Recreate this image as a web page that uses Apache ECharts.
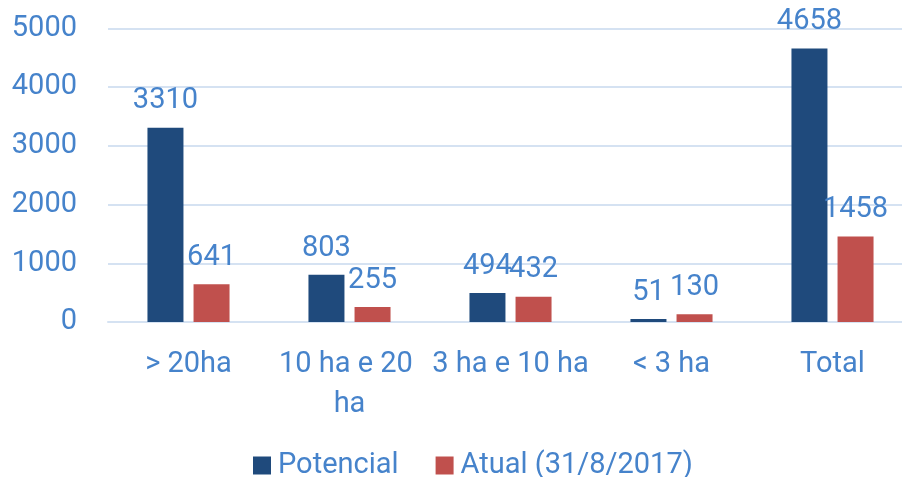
<!DOCTYPE html>
<html>
<head>
<meta charset="utf-8">
<script src="https://cdn.jsdelivr.net/npm/echarts@6/dist/echarts.min.js"></script>
<style>
  html, body { margin: 0; padding: 0; background: #fff; }
  #root { width: 902px; height: 477px; }
</style>
</head>
<body>
<div id="root"></div>
<script>
  var categories = ['> 20ha', '10 ha e 20 ha', '3 ha e 10 ha', '< 3 ha', 'Total'];
  var potencial = [3310, 803, 494, 51, 4658];
  var atual = [641, 255, 432, 130, 1458];
  var seriesNames = ['Potencial', 'Atual (31/8/2017)'];

  var textColor = '#4683cb';
  var font = 'Roboto';

  var chart = echarts.init(document.getElementById('root'));
  var labelStyle = {
    show: true,
    position: 'top',
    distance: 12,
    color: textColor,
    fontSize: 29,
    fontFamily: font
  };

  chart.setOption({
    animation: false,
    // right edge sits past the canvas, as in the reference
    grid: {
      left: 108, right: -11, top: 28.5, bottom: 155,
      containLabel: false, outerBoundsMode: 'none'
    },
    legend: {
      bottom: -8,
      left: 248,
      itemWidth: 18,
      itemHeight: 18,
      itemGap: 37,
      icon: 'rect',
      textStyle: { color: textColor, fontSize: 29, fontFamily: font, padding: [0, 0, 0, 2] },
      data: seriesNames
    },
    xAxis: {
      type: 'category',
      data: categories,
      axisLine: { lineStyle: { color: '#d5e2f2', width: 2 } },
      axisTick: { show: false },
      axisLabel: {
        color: textColor,
        fontSize: 29,
        fontFamily: font,
        margin: 23,
        width: 160,
        overflow: 'break',
        lineHeight: 40,
        interval: 0
      }
    },
    yAxis: {
      type: 'value',
      min: 0,
      max: 5000,
      interval: 1000,
      axisLine: { show: false },
      axisTick: { show: false },
      splitLine: { lineStyle: { color: '#d5e2f2', width: 2 } },
      axisLabel: {
        color: textColor, fontSize: 29, fontFamily: font, margin: 31,
        formatter: function (v) { return String(v); }
      }
    },
    series: [
      {
        name: seriesNames[0],
        type: 'bar',
        data: potencial,
        barWidth: 36,
        barGap: '28%',
        itemStyle: { color: '#1f4a7c' },
        label: labelStyle
      },
      {
        name: seriesNames[1],
        type: 'bar',
        data: atual,
        barWidth: 36,
        itemStyle: { color: '#c0504d' },
        label: labelStyle
      }
    ]
  });
</script>
</body>
</html>
